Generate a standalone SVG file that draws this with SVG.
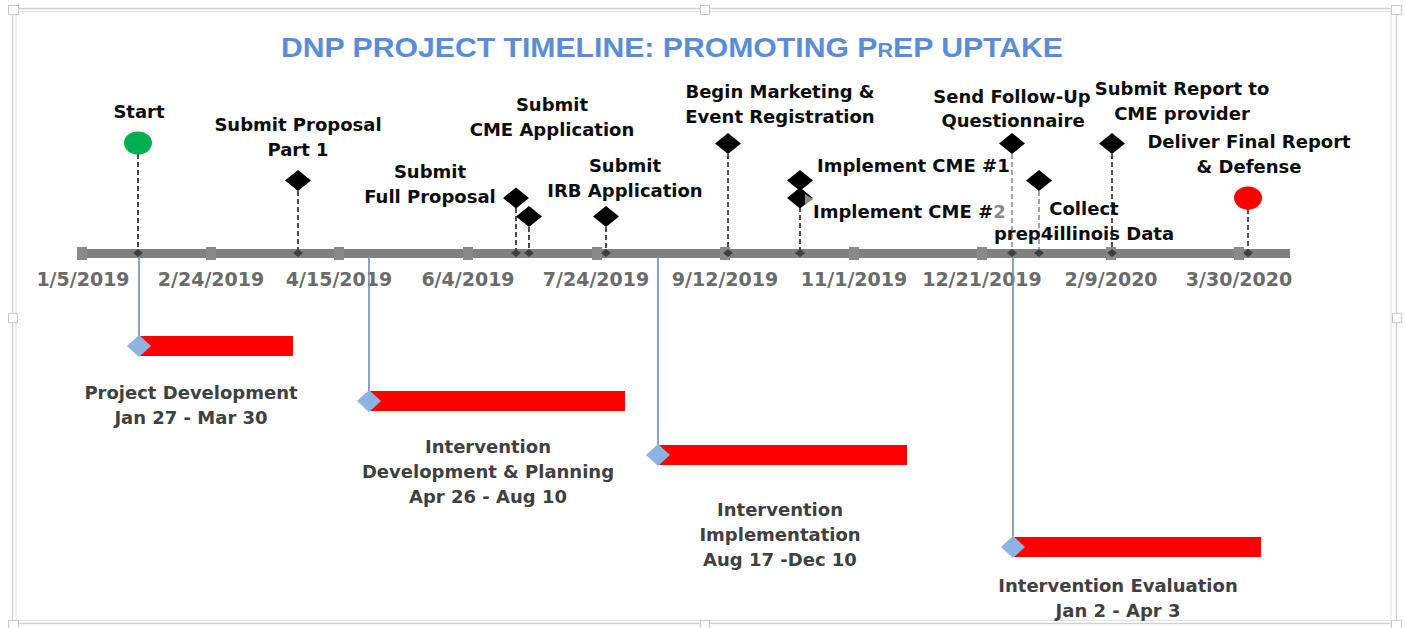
<svg xmlns="http://www.w3.org/2000/svg" width="1405" height="628" viewBox="0 0 1405 628">
<style>
.lbl{font-family:"DejaVu Sans","Liberation Sans",sans-serif;font-weight:bold;font-size:18px;fill:#0d0d0d;text-anchor:middle}
.lbl-l{font-family:"DejaVu Sans","Liberation Sans",sans-serif;font-weight:bold;font-size:18px;fill:#0d0d0d}
.date{font-family:"DejaVu Sans","Liberation Sans",sans-serif;font-weight:bold;font-size:19px;fill:#6b6b6b;text-anchor:middle}
.phase{font-family:"DejaVu Sans","Liberation Sans",sans-serif;font-weight:bold;font-size:18px;fill:#404040;text-anchor:middle}
.dash{stroke:#3a3a3a;stroke-width:1.8;stroke-dasharray:5 3;fill:none}
.dash-lt{stroke:#9a9a9a;stroke-width:1.8;stroke-dasharray:5 3;fill:none}
.vline{stroke:#6f8db8;stroke-width:1.6;fill:none}
.ms{fill:#000}
.tick{fill:#8a8a8a}
.axd{fill:#3f3f3f}
.bar{fill:#ff0000}
.bd{fill:#8db3e2}
.handle{fill:#fff;stroke:#c8c8c8;stroke-width:1}
</style>
<rect width="1405" height="628" fill="#fff"/>
<g id="frame">
<rect x="12.5" y="8.5" width="1384" height="615" fill="none" stroke="#d2d2d2" stroke-width="1.5"/>
<rect x="16" y="11.5" width="1375" height="609" fill="none" stroke="#e2e2e2" stroke-width="1"/>
<rect class="handle" x="8.5" y="5.5" width="10" height="9"/>
<rect class="handle" x="700.5" y="5.5" width="9" height="9"/>
<rect class="handle" x="1391.5" y="5.5" width="10" height="9"/>
<rect class="handle" x="8.5" y="313.5" width="9" height="9"/>
<rect class="handle" x="1392.5" y="313.5" width="9" height="9"/>
<rect class="handle" x="8.5" y="620.5" width="10" height="9"/>
<rect class="handle" x="700.5" y="620.5" width="9" height="9"/>
<rect class="handle" x="1391.5" y="620.5" width="10" height="9"/>
</g>
<g id="title">
<text x="281" y="57" textLength="782" lengthAdjust="spacingAndGlyphs" style="font-family:'Liberation Sans',Arial,sans-serif;font-weight:bold;font-size:28px;fill:#5b8dd6">DNP PROJECT TIMELINE: PROMOTING P<tspan style="font-size:20px">R</tspan>EP UPTAKE</text>
</g>
<g id="axis">
<rect x="78" y="249" width="1212" height="9" fill="#808080"/>
<rect class="tick" x="77" y="247" width="10" height="13"/>
<rect class="tick" x="206" y="247" width="10" height="13"/>
<rect class="tick" x="334" y="247" width="10" height="13"/>
<rect class="tick" x="463" y="247" width="10" height="13"/>
<rect class="tick" x="592" y="247" width="10" height="13"/>
<rect class="tick" x="720" y="247" width="10" height="13"/>
<rect class="tick" x="849" y="247" width="10" height="13"/>
<rect class="tick" x="977" y="247" width="10" height="13"/>
<rect class="tick" x="1106" y="247" width="10" height="13"/>
<rect class="tick" x="1234" y="247" width="10" height="13"/>
<text class="date" x="83" y="286">1/5/2019</text>
<text class="date" x="211" y="286">2/24/2019</text>
<text class="date" x="339" y="286">4/15/2019</text>
<text class="date" x="468" y="286">6/4/2019</text>
<text class="date" x="596" y="286">7/24/2019</text>
<text class="date" x="725" y="286">9/12/2019</text>
<text class="date" x="854" y="286">11/1/2019</text>
<text class="date" x="982" y="286">12/21/2019</text>
<text class="date" x="1111" y="286">2/9/2020</text>
<text class="date" x="1239" y="286">3/30/2020</text>
</g>
<g id="connectors">
<line class="dash" x1="138" y1="154" x2="138" y2="253"/>
<line class="dash" x1="298" y1="191" x2="298" y2="253"/>
<line class="dash" x1="516" y1="208" x2="516" y2="253"/>
<line class="dash" x1="529" y1="227" x2="529" y2="253"/>
<line class="dash" x1="606" y1="227" x2="606" y2="253"/>
<line class="dash" x1="728" y1="154" x2="728" y2="253"/>
<line class="dash" x1="800" y1="191" x2="800" y2="253"/>
<line class="dash-lt" x1="1012" y1="154" x2="1012" y2="253"/>
<line class="dash-lt" x1="1039" y1="191" x2="1039" y2="253"/>
<line class="dash" x1="1112" y1="154" x2="1112" y2="253"/>
<line class="dash" x1="1248" y1="209" x2="1248" y2="253"/>
<line class="vline" x1="139" y1="256" x2="139" y2="346"/>
<line class="vline" x1="369" y1="256" x2="369" y2="401"/>
<line class="vline" x1="658" y1="256" x2="658" y2="455"/>
<line class="vline" x1="1013" y1="256" x2="1013" y2="547"/>
</g>
<g id="axis-markers">
<polygon class="axd" points="133,253 138,249 143,253 138,257"/>
<polygon class="axd" points="293,253 298,249 303,253 298,257"/>
<polygon class="axd" points="511,253 516,249 521,253 516,257"/>
<polygon class="axd" points="524,253 529,249 534,253 529,257"/>
<polygon class="axd" points="601,253 606,249 611,253 606,257"/>
<polygon class="axd" points="723,253 728,249 733,253 728,257"/>
<polygon class="axd" points="795,253 800,249 805,253 800,257"/>
<polygon class="axd" points="1007,253 1012,249 1017,253 1012,257"/>
<polygon class="axd" points="1034,253 1039,249 1044,253 1039,257"/>
<polygon class="axd" points="1107,253 1112,249 1117,253 1112,257"/>
<polygon class="axd" points="1243,253 1248,249 1253,253 1248,257"/>
</g>
<g id="m-start">
<ellipse cx="138" cy="143" rx="14" ry="11.5" fill="#00b050"/>
<text class="lbl" x="139" y="118">Start</text>
</g>
<g id="m-proposal1">
<polygon class="ms" points="285,180.5 298,170 311,180.5 298,191"/>
<text class="lbl" x="298" y="131">Submit Proposal</text>
<text class="lbl" x="298" y="156">Part 1</text>
</g>
<g id="m-fullproposal">
<polygon class="ms" points="503,198 516,187.5 529,198 516,208.5"/>
<text class="lbl" x="430" y="178">Submit</text>
<text class="lbl" x="430" y="203">Full Proposal</text>
</g>
<g id="m-cme-app">
<polygon class="ms" points="516,216.5 529,206 542,216.5 529,227"/>
<text class="lbl" x="552" y="111">Submit</text>
<text class="lbl" x="552" y="136">CME Application</text>
</g>
<g id="m-irb">
<polygon class="ms" points="593,216.5 606,206 619,216.5 606,227"/>
<text class="lbl" x="625" y="172">Submit</text>
<text class="lbl" x="625" y="197">IRB Application</text>
</g>
<g id="m-marketing">
<polygon class="ms" points="715,143.5 728,133 741,143.5 728,154"/>
<text class="lbl" x="780" y="98">Begin Marketing &amp;</text>
<text class="lbl" x="780" y="123">Event Registration</text>
</g>
<g id="m-cme1">
<polygon class="ms" points="787,180.5 800,170 813,180.5 800,191"/>
<text class="lbl-l" x="817" y="172">Implement CME #1</text>
</g>
<g id="m-cme2">
<polygon class="ms" points="787,198 800,187.5 813,198 800,208.5"/>
<polygon points="805,194 813,199 805,205" fill="#8a8a8a"/>
<text class="lbl-l" x="813" y="218">Implement CME #<tspan fill="#8a8a8a">2</tspan></text>
</g>
<g id="m-followup">
<polygon class="ms" points="999,143.5 1012,133 1025,143.5 1012,154"/>
<text class="lbl" x="1012" y="103">Send Follow-Up</text>
<text class="lbl" x="1013" y="127">Questionnaire</text>
</g>
<g id="m-collect">
<polygon class="ms" points="1026,180.5 1039,170 1052,180.5 1039,191"/>
<text class="lbl" x="1084" y="215">Collect</text>
<text class="lbl" x="1084" y="240">prep4illinois Data</text>
</g>
<g id="m-report">
<polygon class="ms" points="1099,143.5 1112,133 1125,143.5 1112,154"/>
<text class="lbl" x="1182" y="95">Submit Report to</text>
<text class="lbl" x="1182" y="120">CME provider</text>
</g>
<g id="m-final">
<ellipse cx="1248" cy="198" rx="14" ry="11.5" fill="#ff0000"/>
<text class="lbl" x="1249" y="148">Deliver Final Report</text>
<text class="lbl" x="1249" y="173">&amp; Defense</text>
</g>
<g id="phase-1">
<rect class="bar" x="139" y="336" width="154" height="20"/>
<polygon class="bd" points="127,346 139,335 151,346 139,357"/>
<text class="phase" x="191" y="399">Project Development</text>
<text class="phase" x="191" y="424">Jan 27 - Mar 30</text>
</g>
<g id="phase-2">
<rect class="bar" x="369" y="391" width="256" height="20"/>
<polygon class="bd" points="357,401 369,390 381,401 369,412"/>
<text class="phase" x="488" y="453">Intervention</text>
<text class="phase" x="488" y="478">Development &amp; Planning</text>
<text class="phase" x="488" y="503">Apr 26 - Aug 10</text>
</g>
<g id="phase-3">
<rect class="bar" x="658" y="445" width="249" height="20"/>
<polygon class="bd" points="646,455 658,444 670,455 658,466"/>
<text class="phase" x="780" y="516">Intervention</text>
<text class="phase" x="780" y="541">Implementation</text>
<text class="phase" x="780" y="566">Aug 17 -Dec 10</text>
</g>
<g id="phase-4">
<rect class="bar" x="1013" y="537" width="248" height="20"/>
<polygon class="bd" points="1001,547 1013,536 1025,547 1013,558"/>
<text class="phase" x="1118" y="592">Intervention Evaluation</text>
<text class="phase" x="1118" y="617">Jan 2 - Apr 3</text>
</g>
</svg>
